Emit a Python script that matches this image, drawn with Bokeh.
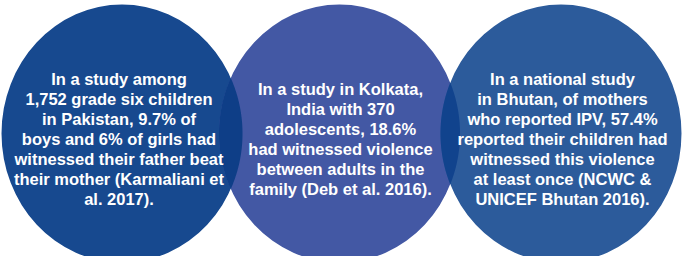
import numpy as np
from bokeh.plotting import figure
from bokeh.models import Range1d, ColumnDataSource
from bokeh.core.properties import value
from bokeh.embed import file_html
from bokeh.resources import INLINE

# ---- content ----
pakistan_lines = [
    "In a study among",
    "1,752 grade six children",
    "in Pakistan, 9.7% of",
    "boys and 6% of girls had",
    "witnessed their father beat",
    "their mother (Karmaliani et",
    "al. 2017).",
]
kolkata_lines = [
    "In a study in Kolkata,",
    "India with 370",
    "adolescents, 18.6%",
    "had witnessed violence",
    "between adults in the",
    "family (Deb et al. 2016).",
]
bhutan_lines = [
    "In a national study",
    "in Bhutan, of mothers",
    "who reported IPV, 57.4%",
    "reported their children had",
    "witnessed this violence",
    "at least once (NCWC &",
    "UNICEF Bhutan 2016).",
]
panels = [pakistan_lines, kolkata_lines, bhutan_lines]

# ---- layout / style ----
circle_cx = [129.5, 347.0, 568.5]
text_cx = [126.5, 348.0, 570.0]
first_baseline = [86.0, 96.0, 86.0]
line_gap = 20.0
cy, rx, ry = 141.0, 120.5, 129.0
fills = ["#17498f", "#4358a4", "#2c5b9b"]
lens_fills = ["#0e3e87", "#11438d"]

p = figure(width=688, height=256, output_backend="svg", toolbar_location=None,
           x_range=Range1d(8, 696), y_range=Range1d(264, 8),
           min_border=0, outline_line_color=None)
p.axis.visible = False
p.grid.visible = False
p.background_fill_color = "white"
p.border_fill_color = "white"

p.ellipse(x=circle_cx, y=[cy] * 3, width=[2 * rx] * 3, height=[2 * ry] * 3,
          fill_color=fills, line_color=None)

def ellipse_pts(cx, n=1440):
    t = np.linspace(0, 2 * np.pi, n, endpoint=False)
    return cx + rx * np.cos(t), cy + ry * np.sin(t)

def inside(x, y, cx):
    return ((x - cx) / rx) ** 2 + ((y - cy) / ry) ** 2 <= 1.0

for i in range(2):
    ax, ay = ellipse_pts(circle_cx[i])
    bx, by = ellipse_pts(circle_cx[i + 1])
    ma = inside(ax, ay, circle_cx[i + 1])
    mb = inside(bx, by, circle_cx[i])
    xs = np.concatenate([ax[ma], bx[mb]])
    ys = np.concatenate([ay[ma], by[mb]])
    ang = np.arctan2(ys - ys.mean(), xs - xs.mean())
    o = np.argsort(ang)
    p.patch(xs[o], ys[o], fill_color=lens_fills[i], line_color=None)

tx, ty, tt = [], [], []
for k, lines in enumerate(panels):
    for j, s in enumerate(lines):
        tx.append(text_cx[k])
        ty.append(first_baseline[k] + j * line_gap)
        tt.append(s)
src = ColumnDataSource(dict(x=tx, y=ty, text=tt))
p.text(x="x", y="y", text="text", source=src, text_color="white",
       text_font=value("Liberation Sans"), text_font_style="bold",
       text_font_size="16.5px", text_align="center", text_baseline="alphabetic")

open("out.html", "w").write(file_html(p, INLINE))
